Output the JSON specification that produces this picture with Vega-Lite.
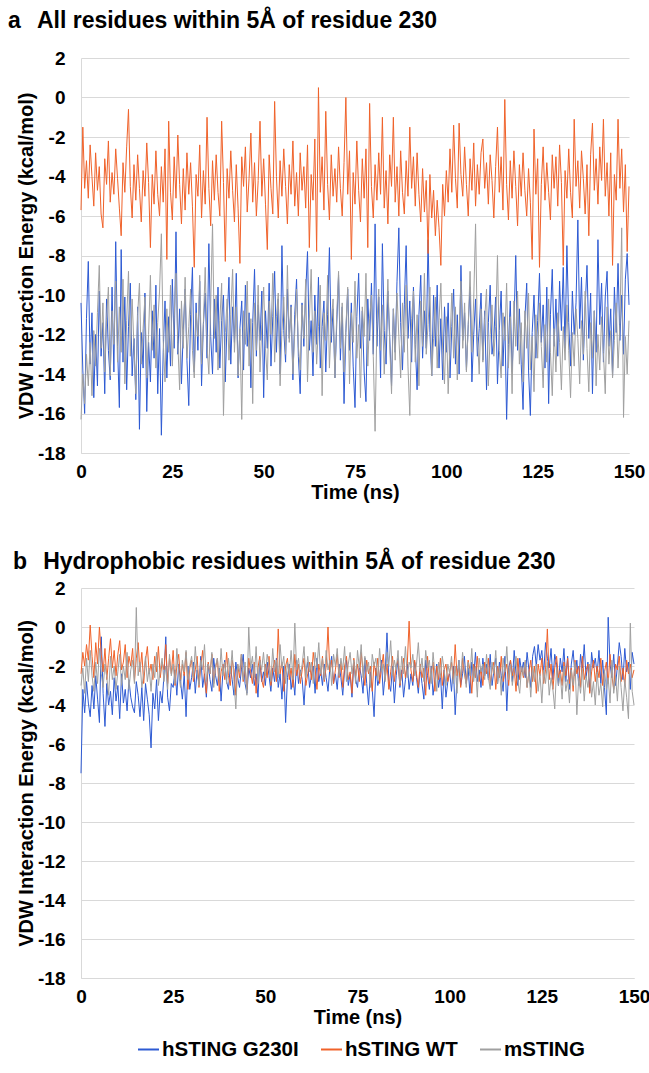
{
"$schema":"https://vega.github.io/schema/vega-lite/v6.json",
"background":"white",
"padding":{"left":8,"top":10,"right":2,"bottom":10},
"config":{
"font":"Liberation Sans",
"view":{"stroke":null},
"concat":{"spacing":49},
"axis":{"domainColor":"#D9D9D9","gridColor":"#D9D9D9","ticks":false,"labelFont":"Liberation Sans","labelFontSize":19,"labelFontWeight":"bold","labelColor":"#000000","titleFont":"Liberation Sans","titleFontSize":20,"titleFontWeight":"bold","titleColor":"#000000","labelExpr":"toString(datum.value)"},
"axisX":{"grid":false,"labelPadding":9,"titlePadding":1,"labelFlush":false},
"axisY":{"grid":true,"labelPadding":16,"titlePadding":1},
"title":{"font":"Liberation Sans","fontSize":23,"fontWeight":"bold","color":"#000000","anchor":"start","frame":"group"}
},
"datasets":{
"names":[{"k":"g","series":"hSTING G230I"},{"k":"w","series":"hSTING WT"},{"k":"m","series":"mSTING"}],
"a":[
{"t":0,"g":-10.4,"w":-5.7,"m":-16.3},{"t":0.5,"g":-13.8,"w":-1.5,"m":-14.0},{"t":1,"g":-16.0,"w":-4.6,"m":-15.5},{"t":1.5,"g":-11.2,"w":-3.2,"m":-13.0},{"t":2,"g":-8.3,"w":-5.1,"m":-14.6},{"t":2.5,"g":-13.5,"w":-2.4,"m":-12.4},{"t":3,"g":-10.9,"w":-4.0,"m":-15.1},{"t":3.5,"g":-15.2,"w":-5.5,"m":-11.8},{"t":4,"g":-12.0,"w":-2.8,"m":-13.6},{"t":4.5,"g":-14.6,"w":-4.7,"m":-10.9},
{"t":5,"g":-9.8,"w":-3.5,"m":-8.5},{"t":5.5,"g":-13.1,"w":-5.9,"m":-12.7},{"t":6,"g":-11.4,"w":-6.6,"m":-10.4},{"t":6.5,"g":-15.0,"w":-3.1,"m":-13.9},{"t":7,"g":-10.2,"w":-4.4,"m":-11.2},{"t":7.5,"g":-12.8,"w":-2.2,"m":-9.6},{"t":8,"g":-14.3,"w":-5.3,"m":-14.1},{"t":8.5,"g":-9.6,"w":-3.8,"m":-10.8},{"t":9,"g":-13.9,"w":-4.9,"m":-12.5},{"t":9.5,"g":-7.3,"w":-2.6,"m":-9.3},
{"t":10,"g":-12.6,"w":-4.1,"m":-13.4},{"t":10.5,"g":-15.7,"w":-5.6,"m":-10.6},{"t":11,"g":-7.7,"w":-7.0,"m":-12.9},{"t":11.5,"g":-13.4,"w":-3.3,"m":-9.2},{"t":12,"g":-10.1,"w":-4.8,"m":-14.5},{"t":12.5,"g":-14.8,"w":-2.5,"m":-11.3},{"t":13,"g":-11.6,"w":-0.6,"m":-8.8},{"t":13.5,"g":-9.4,"w":-4.5,"m":-13.1},{"t":14,"g":-14.1,"w":-6.1,"m":-10.2},{"t":14.5,"g":-12.2,"w":-3.4,"m":-12.6},
{"t":15,"g":-15.3,"w":-5.2,"m":-15.0},{"t":15.5,"g":-10.6,"w":-2.9,"m":-11.0},{"t":16,"g":-16.8,"w":-4.6,"m":-9.4},{"t":16.5,"g":-11.9,"w":-6.3,"m":-13.5},{"t":17,"g":-13.7,"w":-3.7,"m":-11.7},{"t":17.5,"g":-9.9,"w":-5.0,"m":-10.1},{"t":18,"g":-15.9,"w":-2.3,"m":-14.2},{"t":18.5,"g":-12.4,"w":-4.3,"m":-12.0},{"t":19,"g":-14.4,"w":-7.6,"m":-9.0},{"t":19.5,"g":-10.8,"w":-3.9,"m":-12.8},
{"t":20,"g":-13.2,"w":-5.4,"m":-10.5},{"t":20.5,"g":-9.5,"w":-2.7,"m":-13.7},{"t":21,"g":-15.0,"w":-4.9,"m":-11.4},{"t":21.5,"g":-11.7,"w":-6.0,"m":-9.8},{"t":22,"g":-17.1,"w":-3.5,"m":-6.9},{"t":22.5,"g":-12.9,"w":-5.3,"m":-12.3},{"t":23,"g":-10.3,"w":-2.6,"m":-14.4},{"t":23.5,"g":-14.2,"w":-8.2,"m":-10.7},{"t":24,"g":-11.1,"w":-1.2,"m":-12.9},{"t":24.5,"g":-13.6,"w":-4.8,"m":-9.5},
{"t":25,"g":-9.2,"w":-6.2,"m":-13.6},{"t":25.5,"g":-12.7,"w":-3.0,"m":-11.1},{"t":26,"g":-6.8,"w":-5.1,"m":-8.9},{"t":26.5,"g":-13.0,"w":-1.9,"m":-12.4},{"t":27,"g":-10.7,"w":-4.4,"m":-14.8},{"t":27.5,"g":-14.5,"w":-6.4,"m":-10.3},{"t":28,"g":-11.8,"w":-3.6,"m":-12.7},{"t":28.5,"g":-9.7,"w":-5.7,"m":-9.1},{"t":29,"g":-13.3,"w":-2.8,"m":-13.2},{"t":29.5,"g":-15.6,"w":-4.9,"m":-11.6},
{"t":30,"g":-11.0,"w":-3.3,"m":-9.7},{"t":30.5,"g":-8.6,"w":-5.5,"m":-12.8},{"t":31,"g":-13.9,"w":-8.6,"m":-14.2},{"t":31.5,"g":-10.4,"w":-3.9,"m":-10.9},{"t":32,"g":-12.8,"w":-5.0,"m":-12.1},{"t":32.5,"g":-9.3,"w":-2.4,"m":-9.0},{"t":33,"g":-14.6,"w":-6.1,"m":-13.5},{"t":33.5,"g":-11.5,"w":-3.7,"m":-11.4},{"t":34,"g":-9.9,"w":-5.4,"m":-8.6},{"t":34.5,"g":-13.2,"w":-1.0,"m":-12.6},
{"t":35,"g":-7.4,"w":-4.6,"m":-14.0},{"t":35.5,"g":-12.1,"w":-6.5,"m":-10.5},{"t":36,"g":-14.0,"w":-3.2,"m":-6.4},{"t":36.5,"g":-10.2,"w":-5.2,"m":-12.2},{"t":37,"g":-12.9,"w":-2.9,"m":-10.0},{"t":37.5,"g":-9.6,"w":-4.8,"m":-13.8},{"t":38,"g":-13.7,"w":-6.0,"m":-11.3},{"t":38.5,"g":-11.3,"w":-1.2,"m":-9.4},{"t":39,"g":-10.0,"w":-4.3,"m":-16.1},{"t":39.5,"g":-14.4,"w":-8.3,"m":-11.9},
{"t":40,"g":-11.2,"w":-3.6,"m":-10.2},{"t":40.5,"g":-9.1,"w":-5.1,"m":-13.3},{"t":41,"g":-13.5,"w":-2.7,"m":-11.0},{"t":41.5,"g":-10.6,"w":-4.7,"m":-8.7},{"t":42,"g":-12.4,"w":-6.3,"m":-12.9},{"t":42.5,"g":-8.9,"w":-3.4,"m":-10.6},{"t":43,"g":-14.2,"w":-5.6,"m":-14.1},{"t":43.5,"g":-11.7,"w":-8.4,"m":-11.7},{"t":44,"g":-10.3,"w":-3.0,"m":-16.3},{"t":44.5,"g":-13.8,"w":-4.5,"m":-10.8},
{"t":45,"g":-9.5,"w":-2.5,"m":-12.5},{"t":45.5,"g":-12.6,"w":-5.8,"m":-9.3},{"t":46,"g":-10.9,"w":-4.1,"m":-13.6},{"t":46.5,"g":-14.7,"w":-1.8,"m":-11.2},{"t":47,"g":-11.4,"w":-5.3,"m":-15.5},{"t":47.5,"g":-8.7,"w":-3.3,"m":-10.4},{"t":48,"g":-13.1,"w":-6.0,"m":-12.8},{"t":48.5,"g":-10.5,"w":-4.2,"m":-9.5},{"t":49,"g":-12.3,"w":-1.2,"m":-13.9},{"t":49.5,"g":-9.8,"w":-5.0,"m":-11.5},
{"t":50,"g":-15.2,"w":-3.1,"m":-9.6},{"t":50.5,"g":-10.8,"w":-5.4,"m":-12.7},{"t":51,"g":-12.7,"w":-7.7,"m":-14.3},{"t":51.5,"g":-9.4,"w":-2.9,"m":-10.3},{"t":52,"g":-13.6,"w":-4.6,"m":-12.0},{"t":52.5,"g":-11.1,"w":-5.9,"m":-8.9},{"t":53,"g":-8.8,"w":-0.2,"m":-13.4},{"t":53.5,"g":-12.9,"w":-4.0,"m":-11.1},{"t":54,"g":-10.2,"w":-6.1,"m":-9.9},{"t":54.5,"g":-14.0,"w":-3.2,"m":-14.6},
{"t":55,"g":-7.5,"w":-5.0,"m":-11.8},{"t":55.5,"g":-11.8,"w":-2.6,"m":-10.1},{"t":56,"g":-13.4,"w":-4.5,"m":-13.0},{"t":56.5,"g":-9.7,"w":-6.4,"m":-8.5},{"t":57,"g":-12.2,"w":-3.4,"m":-12.4},{"t":57.5,"g":-10.5,"w":-4.9,"m":-10.6},{"t":58,"g":-14.3,"w":-2.2,"m":-14.0},{"t":58.5,"g":-11.0,"w":-5.5,"m":-11.9},{"t":59,"g":-9.2,"w":-3.8,"m":-9.7},{"t":59.5,"g":-13.1,"w":-6.0,"m":-12.6},
{"t":60,"g":-15.0,"w":-2.8,"m":-13.8},{"t":60.5,"g":-10.4,"w":-4.7,"m":-10.5},{"t":61,"g":-12.6,"w":-3.5,"m":-12.2},{"t":61.5,"g":-9.9,"w":-5.6,"m":-9.2},{"t":62,"g":-7.8,"w":-2.4,"m":-14.4},{"t":62.5,"g":-12.8,"w":-7.6,"m":-11.3},{"t":63,"g":-11.3,"w":-3.9,"m":-8.7},{"t":63.5,"g":-14.1,"w":-5.2,"m":-12.9},{"t":64,"g":-10.0,"w":-2.1,"m":-10.8},{"t":64.5,"g":-12.5,"w":-7.8,"m":-13.5},
{"t":65,"g":-9.1,"w":0.5,"m":-11.6},{"t":65.5,"g":-13.7,"w":-4.8,"m":-9.5},{"t":66,"g":-11.6,"w":-3.0,"m":-15.1},{"t":66.5,"g":-10.3,"w":-5.7,"m":-10.9},{"t":67,"g":-13.9,"w":-0.7,"m":-12.3},{"t":67.5,"g":-11.0,"w":-4.4,"m":-9.0},{"t":68,"g":-7.6,"w":-6.2,"m":-13.7},{"t":68.5,"g":-12.4,"w":-2.9,"m":-11.4},{"t":69,"g":-10.7,"w":-5.0,"m":-10.2},{"t":69.5,"g":-14.2,"w":-3.6,"m":-14.2},
{"t":70,"g":-11.5,"w":-5.3,"m":-11.0},{"t":70.5,"g":-9.0,"w":-2.5,"m":-8.8},{"t":71,"g":-13.3,"w":-4.6,"m":-12.7},{"t":71.5,"g":-10.6,"w":-6.0,"m":-10.4},{"t":72,"g":-15.5,"w":-3.3,"m":-13.9},{"t":72.5,"g":-11.9,"w":0.0,"m":-11.7},{"t":73,"g":-9.7,"w":-4.9,"m":-9.6},{"t":73.5,"g":-12.8,"w":-2.7,"m":-14.5},{"t":74,"g":-10.4,"w":-8.2,"m":-10.9},{"t":74.5,"g":-13.6,"w":-3.8,"m":-12.4},
{"t":75,"g":-15.7,"w":-5.4,"m":-9.3},{"t":75.5,"g":-11.1,"w":-2.2,"m":-13.2},{"t":76,"g":-8.9,"w":-4.7,"m":-11.5},{"t":76.5,"g":-12.7,"w":-6.3,"m":-15.2},{"t":77,"g":-10.8,"w":-3.1,"m":-10.6},{"t":77.5,"g":-13.9,"w":-5.1,"m":-12.1},{"t":78,"g":-15.4,"w":-2.6,"m":-8.9},{"t":78.5,"g":-10.2,"w":-7.6,"m":-13.6},{"t":79,"g":-12.3,"w":-0.3,"m":-11.2},{"t":79.5,"g":-9.4,"w":-4.5,"m":-10.0},
{"t":80,"g":-13.0,"w":-6.1,"m":-13.1},{"t":80.5,"g":-6.4,"w":-3.4,"m":-16.9},{"t":81,"g":-12.6,"w":-5.2,"m":-11.4},{"t":81.5,"g":-10.1,"w":-2.8,"m":-9.7},{"t":82,"g":-14.2,"w":-4.9,"m":-12.8},{"t":82.5,"g":-7.4,"w":-1.0,"m":-10.5},{"t":83,"g":-11.8,"w":-5.6,"m":-14.0},{"t":83.5,"g":-13.5,"w":-3.7,"m":-11.8},{"t":84,"g":-9.8,"w":-6.4,"m":-9.2},{"t":84.5,"g":-12.1,"w":-2.9,"m":-12.5},
{"t":85,"g":-14.6,"w":-4.5,"m":-15.0},{"t":85.5,"g":-10.7,"w":-1.0,"m":-10.7},{"t":86,"g":-12.9,"w":-5.3,"m":-13.3},{"t":86.5,"g":-9.3,"w":-3.5,"m":-9.9},{"t":87,"g":-6.6,"w":-6.0,"m":-12.1},{"t":87.5,"g":-11.4,"w":-2.7,"m":-14.2},{"t":88,"g":-13.8,"w":-4.8,"m":-10.4},{"t":88.5,"g":-10.5,"w":-5.9,"m":-12.9},{"t":89,"g":-7.5,"w":-3.2,"m":-9.5},{"t":89.5,"g":-12.2,"w":-5.0,"m":-13.6},
{"t":90,"g":-10.3,"w":-1.5,"m":-16.1},{"t":90.5,"g":-13.4,"w":-4.6,"m":-11.2},{"t":91,"g":-9.6,"w":-3.0,"m":-9.8},{"t":91.5,"g":-12.5,"w":-5.5,"m":-13.4},{"t":92,"g":-14.8,"w":-2.8,"m":-11.0},{"t":92.5,"g":-11.0,"w":-4.9,"m":-14.6},{"t":93,"g":-9.0,"w":-6.3,"m":-10.3},{"t":93.5,"g":-13.2,"w":-3.6,"m":-12.6},{"t":94,"g":-10.8,"w":-5.8,"m":-8.9},{"t":94.5,"g":-12.7,"w":-4.2,"m":-13.0},
{"t":95,"g":-7.2,"w":-7.9,"m":-11.5},{"t":95.5,"g":-11.9,"w":-3.9,"m":-9.6},{"t":96,"g":-14.1,"w":-6.1,"m":-14.1},{"t":96.5,"g":-10.0,"w":-4.7,"m":-12.2},{"t":97,"g":-12.6,"w":-7.0,"m":-10.1},{"t":97.5,"g":-9.5,"w":-5.2,"m":-13.7},{"t":98,"g":-13.7,"w":-6.6,"m":-11.3},{"t":98.5,"g":-11.2,"w":-8.5,"m":-9.4},{"t":99,"g":-14.3,"w":-4.4,"m":-12.8},{"t":99.5,"g":-10.6,"w":-6.0,"m":-14.5},
{"t":100,"g":-12.9,"w":-3.7,"m":-11.1},{"t":100.5,"g":-10.4,"w":-5.3,"m":-15.0},{"t":101,"g":-14.2,"w":-2.6,"m":-12.4},{"t":101.5,"g":-11.6,"w":-4.8,"m":-9.9},{"t":102,"g":-9.7,"w":-1.4,"m":-13.2},{"t":102.5,"g":-13.5,"w":-4.1,"m":-10.6},{"t":103,"g":-11.0,"w":-5.6,"m":-14.3},{"t":103.5,"g":-14.0,"w":-1.3,"m":-11.8},{"t":104,"g":-8.5,"w":-3.9,"m":-9.3},{"t":104.5,"g":-12.3,"w":-5.0,"m":-12.7},
{"t":105,"g":-10.9,"w":-2.5,"m":-10.4},{"t":105.5,"g":-13.8,"w":-4.4,"m":-13.9},{"t":106,"g":-11.5,"w":-6.0,"m":-11.5},{"t":106.5,"g":-9.6,"w":-3.1,"m":-8.8},{"t":107,"g":-14.4,"w":-4.7,"m":-12.9},{"t":107.5,"g":-12.0,"w":-2.3,"m":-10.2},{"t":108,"g":-10.2,"w":-5.5,"m":-6.4},{"t":108.5,"g":-13.1,"w":-3.4,"m":-12.1},{"t":109,"g":-11.7,"w":-4.9,"m":-14.0},{"t":109.5,"g":-9.9,"w":-2.8,"m":-10.7},
{"t":110,"g":-13.3,"w":-2.1,"m":-13.4},{"t":110.5,"g":-10.8,"w":-4.6,"m":-11.2},{"t":111,"g":-14.8,"w":-3.3,"m":-9.7},{"t":111.5,"g":-11.4,"w":-5.4,"m":-14.6},{"t":112,"g":-9.5,"w":-2.9,"m":-12.0},{"t":112.5,"g":-13.0,"w":-4.2,"m":-10.5},{"t":113,"g":-12.2,"w":-6.1,"m":-13.1},{"t":113.5,"g":-10.1,"w":-3.5,"m":-11.6},{"t":114,"g":-14.5,"w":-1.5,"m":-8.0},{"t":114.5,"g":-11.8,"w":-4.8,"m":-12.8},
{"t":115,"g":-9.8,"w":-3.0,"m":-14.2},{"t":115.5,"g":-13.6,"w":-5.7,"m":-10.9},{"t":116,"g":-11.1,"w":-0.1,"m":-12.3},{"t":116.5,"g":-16.3,"w":-4.4,"m":-9.4},{"t":117,"g":-12.5,"w":-6.2,"m":-13.7},{"t":117.5,"g":-10.3,"w":-3.2,"m":-11.1},{"t":118,"g":-13.9,"w":-5.1,"m":-15.0},{"t":118.5,"g":-11.6,"w":-2.7,"m":-10.3},{"t":119,"g":-8.0,"w":-4.5,"m":-12.6},{"t":119.5,"g":-12.8,"w":-6.5,"m":-9.8},
{"t":120,"g":-10.7,"w":-3.4,"m":-13.5},{"t":120.5,"g":-13.5,"w":-5.0,"m":-11.4},{"t":121,"g":-15.8,"w":-2.8,"m":-14.4},{"t":121.5,"g":-11.2,"w":-4.7,"m":-10.8},{"t":122,"g":-9.4,"w":-6.0,"m":-12.7},{"t":122.5,"g":-13.8,"w":-3.6,"m":-9.9},{"t":123,"g":-16.1,"w":-5.3,"m":-13.8},{"t":123.5,"g":-11.9,"w":-8.2,"m":-12.1},{"t":124,"g":-10.0,"w":-1.6,"m":-14.9},{"t":124.5,"g":-13.2,"w":-4.9,"m":-11.0},
{"t":125,"g":-11.3,"w":-3.1,"m":-13.2},{"t":125.5,"g":-8.9,"w":-8.6,"m":-10.4},{"t":126,"g":-12.4,"w":-4.4,"m":-12.6},{"t":126.5,"g":-10.5,"w":-2.5,"m":-14.7},{"t":127,"g":-13.7,"w":-5.2,"m":-11.5},{"t":127.5,"g":-9.6,"w":-3.3,"m":-13.4},{"t":128,"g":-15.5,"w":-4.8,"m":-10.2},{"t":128.5,"g":-11.0,"w":-6.2,"m":-12.9},{"t":129,"g":-8.7,"w":-2.9,"m":-15.1},{"t":129.5,"g":-12.6,"w":-4.6,"m":-11.7},
{"t":130,"g":-10.2,"w":-3.0,"m":-13.9},{"t":130.5,"g":-13.1,"w":-5.5,"m":-10.9},{"t":131,"g":-9.3,"w":-2.4,"m":-12.4},{"t":131.5,"g":-11.8,"w":-4.3,"m":-14.8},{"t":132,"g":-8.6,"w":-8.5,"m":-11.6},{"t":132.5,"g":-12.7,"w":-3.7,"m":-13.3},{"t":133,"g":-7.5,"w":-5.1,"m":-10.5},{"t":133.5,"g":-11.4,"w":-2.6,"m":-12.8},{"t":134,"g":-13.6,"w":-4.8,"m":-15.2},{"t":134.5,"g":-9.8,"w":-6.1,"m":-11.9},
{"t":135,"g":-12.0,"w":-1.1,"m":-13.6},{"t":135.5,"g":-10.4,"w":-4.5,"m":-10.7},{"t":136,"g":-6.2,"w":-3.2,"m":-12.2},{"t":136.5,"g":-11.7,"w":-5.6,"m":-14.5},{"t":137,"g":-9.1,"w":-2.7,"m":-11.3},{"t":137.5,"g":-13.3,"w":-4.1,"m":-13.0},{"t":138,"g":-10.6,"w":-5.9,"m":-9.8},{"t":138.5,"g":-8.5,"w":-3.4,"m":-12.7},{"t":139,"g":-12.2,"w":-7.0,"m":-14.9},{"t":139.5,"g":-9.9,"w":-2.9,"m":-11.4},
{"t":140,"g":-15.0,"w":-1.3,"m":-13.2},{"t":140.5,"g":-10.8,"w":-4.7,"m":-10.8},{"t":141,"g":-12.9,"w":-3.1,"m":-14.6},{"t":141.5,"g":-7.2,"w":-5.4,"m":-12.0},{"t":142,"g":-11.5,"w":-2.5,"m":-13.8},{"t":142.5,"g":-9.4,"w":-4.2,"m":-11.1},{"t":143,"g":-13.4,"w":-1.1,"m":-12.9},{"t":143.5,"g":-10.1,"w":-5.0,"m":-15.0},{"t":144,"g":-8.8,"w":-3.3,"m":-10.6},{"t":144.5,"g":-12.6,"w":-6.0,"m":-13.5},
{"t":145,"g":-10.7,"w":-2.8,"m":-11.8},{"t":145.5,"g":-14.1,"w":-8.5,"m":-14.2},{"t":146,"g":-9.6,"w":-3.9,"m":-12.3},{"t":146.5,"g":-11.9,"w":-5.2,"m":-10.4},{"t":147,"g":-8.4,"w":-1.1,"m":-13.7},{"t":147.5,"g":-12.3,"w":-4.6,"m":-11.5},{"t":148,"g":-10.0,"w":-2.6,"m":-6.6},{"t":148.5,"g":-13.0,"w":-5.8,"m":-16.2},{"t":149,"g":-9.2,"w":-3.4,"m":-12.1},{"t":149.5,"g":-7.9,"w":-7.8,"m":-14.0},
{"t":150,"g":-10.5,"w":-4.5,"m":-11.3}
],
"b":[
{"t":0,"g":-7.5,"w":-2.4,"m":-3.0},{"t":0.5,"g":-3.2,"w":-1.3,"m":-2.1},{"t":1,"g":-4.4,"w":-2.0,"m":-3.4},{"t":1.5,"g":-2.8,"w":-0.9,"m":-1.6},{"t":2,"g":-3.9,"w":-1.7,"m":-2.8},{"t":2.5,"g":-4.6,"w":0.1,"m":-1.2},{"t":3,"g":-3.0,"w":-1.5,"m":-2.5},{"t":3.5,"g":-4.2,"w":-2.6,"m":-3.3},{"t":4,"g":-2.5,"w":-0.8,"m":-1.8},{"t":4.5,"g":-3.7,"w":-1.9,"m":-2.9},
{"t":5,"g":-4.9,"w":0.0,"m":-1.1},{"t":5.5,"g":-0.5,"w":-1.4,"m":-2.4},{"t":6,"g":-3.4,"w":-2.3,"m":-3.1},{"t":6.5,"g":-5.1,"w":-1.1,"m":-1.9},{"t":7,"g":-2.9,"w":-2.7,"m":-2.6},{"t":7.5,"g":-4.0,"w":-1.6,"m":-3.5},{"t":8,"g":-3.3,"w":-0.6,"m":-1.5},{"t":8.5,"g":-4.5,"w":-2.1,"m":-2.7},{"t":9,"g":-2.6,"w":-1.2,"m":-2.0},{"t":9.5,"g":-3.8,"w":-2.5,"m":-3.2},
{"t":10,"g":-3.0,"w":-1.4,"m":-2.3},{"t":10.5,"g":-4.7,"w":-0.7,"m":-1.4},{"t":11,"g":-2.4,"w":-2.2,"m":-3.0},{"t":11.5,"g":-3.9,"w":-1.8,"m":-2.0},{"t":12,"g":-3.2,"w":-0.9,"m":-2.7},{"t":12.5,"g":-4.3,"w":-2.6,"m":-1.3},{"t":13,"g":-2.7,"w":-1.5,"m":-3.2},{"t":13.5,"g":-3.6,"w":-2.0,"m":-2.2},{"t":14,"g":-4.1,"w":-1.1,"m":-1.7},{"t":14.5,"g":-4.4,"w":-2.8,"m":-2.9},
{"t":15,"g":-2.8,"w":-1.6,"m":1.0},{"t":15.5,"g":-3.5,"w":-0.8,"m":-2.5},{"t":16,"g":-4.6,"w":-2.3,"m":-1.8},{"t":16.5,"g":-3.1,"w":-1.3,"m":-3.1},{"t":17,"g":-4.8,"w":-2.9,"m":-2.4},{"t":17.5,"g":-2.9,"w":-1.7,"m":-1.5},{"t":18,"g":-3.7,"w":-1.0,"m":-2.8},{"t":18.5,"g":-4.5,"w":-2.4,"m":-2.1},{"t":19,"g":-6.2,"w":-1.9,"m":-3.3},{"t":19.5,"g":-3.4,"w":-2.7,"m":-1.9},
{"t":20,"g":-4.2,"w":-1.5,"m":-2.6},{"t":20.5,"g":-2.7,"w":-2.3,"m":-1.3},{"t":21,"g":-4.8,"w":-1.0,"m":-3.0},{"t":21.5,"g":-3.3,"w":-2.6,"m":-2.2},{"t":22,"g":-3.9,"w":-1.8,"m":-1.6},{"t":22.5,"g":-2.5,"w":-2.2,"m":-2.8},{"t":23,"g":-0.5,"w":-0.9,"m":-2.0},{"t":23.5,"g":-3.6,"w":-2.9,"m":-3.2},{"t":24,"g":-4.3,"w":-1.6,"m":-1.4},{"t":24.5,"g":-2.9,"w":-2.4,"m":-2.5},
{"t":25,"g":-3.1,"w":-1.2,"m":-1.9},{"t":25.5,"g":-2.2,"w":-3.0,"m":-2.9},{"t":26,"g":-3.5,"w":-2.0,"m":-1.1},{"t":26.5,"g":-1.9,"w":-1.4,"m":-2.4},{"t":27,"g":-2.8,"w":-2.7,"m":-3.1},{"t":27.5,"g":-3.7,"w":-1.9,"m":-1.7},{"t":28,"g":-2.4,"w":-2.5,"m":-2.3},{"t":28.5,"g":-4.6,"w":-1.3,"m":-1.2},{"t":29,"g":-2.0,"w":-3.2,"m":-2.7},{"t":29.5,"g":-3.2,"w":-2.1,"m":-2.0},
{"t":30,"g":-2.6,"w":-1.7,"m":-1.5},{"t":30.5,"g":-1.8,"w":-2.8,"m":-2.6},{"t":31,"g":-3.4,"w":-2.2,"m":-1.0},{"t":31.5,"g":-2.2,"w":-1.5,"m":-2.3},{"t":32,"g":-2.9,"w":-3.1,"m":-3.0},{"t":32.5,"g":-1.5,"w":-2.0,"m":-1.7},{"t":33,"g":-3.1,"w":-1.2,"m":-2.2},{"t":33.5,"g":-2.4,"w":-2.6,"m":-0.9},{"t":34,"g":-3.6,"w":-3.4,"m":-2.8},{"t":34.5,"g":-1.9,"w":-1.8,"m":-1.9},
{"t":35,"g":-2.7,"w":-2.4,"m":-2.4},{"t":35.5,"g":-3.3,"w":-1.4,"m":-1.3},{"t":36,"g":-1.6,"w":-2.9,"m":-3.1},{"t":36.5,"g":-2.5,"w":-2.1,"m":-2.0},{"t":37,"g":-3.0,"w":-1.6,"m":-1.6},{"t":37.5,"g":-2.1,"w":-3.3,"m":-2.7},{"t":38,"g":-3.8,"w":-2.3,"m":-1.1},{"t":38.5,"g":-2.3,"w":-1.9,"m":-2.5},{"t":39,"g":-1.7,"w":-2.7,"m":-1.8},{"t":39.5,"g":-2.8,"w":-1.3,"m":-2.9},
{"t":40,"g":-3.2,"w":-2.5,"m":-1.6},{"t":40.5,"g":-2.0,"w":-3.0,"m":-2.4},{"t":41,"g":-2.7,"w":-1.7,"m":-1.2},{"t":41.5,"g":-3.5,"w":-2.2,"m":-2.8},{"t":42,"g":-1.8,"w":-3.5,"m":-4.2},{"t":42.5,"g":-2.6,"w":-1.9,"m":-1.9},{"t":43,"g":-3.1,"w":-2.6,"m":-2.3},{"t":43.5,"g":-2.2,"w":-1.4,"m":-1.4},{"t":44,"g":-1.4,"w":-2.8,"m":-2.7},{"t":44.5,"g":-2.9,"w":-2.0,"m":-1.8},
{"t":45,"g":-3.4,"w":-3.2,"m":-3.5},{"t":45.5,"g":-2.1,"w":-1.6,"m":0.0},{"t":46,"g":-2.6,"w":-2.3,"m":-2.1},{"t":46.5,"g":-1.9,"w":-2.9,"m":-1.5},{"t":47,"g":-3.0,"w":-1.8,"m":-2.6},{"t":47.5,"g":-2.4,"w":-3.4,"m":-1.0},{"t":48,"g":-3.6,"w":-2.1,"m":-2.9},{"t":48.5,"g":-1.7,"w":-1.5,"m":-1.7},{"t":49,"g":-2.8,"w":-2.7,"m":-2.2},{"t":49.5,"g":-2.3,"w":-3.1,"m":-1.3},
{"t":50,"g":-3.0,"w":-1.9,"m":-2.5},{"t":50.5,"g":-1.8,"w":-2.6,"m":-1.4},{"t":51,"g":-2.5,"w":-1.5,"m":-2.0},{"t":51.5,"g":-3.3,"w":-3.0,"m":-2.8},{"t":52,"g":-2.1,"w":-2.2,"m":-1.1},{"t":52.5,"g":-2.8,"w":-1.7,"m":-2.3},{"t":53,"g":-1.6,"w":-2.8,"m":-1.7},{"t":53.5,"g":-3.1,"w":-0.1,"m":-2.6},{"t":54,"g":-2.4,"w":-2.4,"m":-0.9},{"t":54.5,"g":-3.7,"w":-1.8,"m":-2.1},
{"t":55,"g":-2.0,"w":-3.3,"m":-1.5},{"t":55.5,"g":-4.9,"w":-2.0,"m":-2.9},{"t":56,"g":-2.6,"w":-1.6,"m":-1.8},{"t":56.5,"g":-1.9,"w":-2.7,"m":-2.4},{"t":57,"g":-3.2,"w":-2.1,"m":-1.2},{"t":57.5,"g":-2.5,"w":-3.1,"m":-2.7},{"t":58,"g":-3.5,"w":-1.4,"m":0.2},{"t":58.5,"g":-1.7,"w":-2.5,"m":-2.2},{"t":59,"g":-2.9,"w":-1.9,"m":-1.6},{"t":59.5,"g":-2.2,"w":-2.9,"m":-2.5},
{"t":60,"g":-2.7,"w":-2.2,"m":-1.9},{"t":60.5,"g":-4.0,"w":-1.6,"m":-1.0},{"t":61,"g":-2.3,"w":-3.0,"m":-2.6},{"t":61.5,"g":-1.8,"w":-2.4,"m":-1.5},{"t":62,"g":-3.1,"w":-1.8,"m":-2.3},{"t":62.5,"g":-2.5,"w":-2.7,"m":-1.8},{"t":63,"g":-2.0,"w":-1.3,"m":-2.9},{"t":63.5,"g":-3.4,"w":-2.1,"m":-1.3},{"t":64,"g":-1.6,"w":-3.2,"m":-2.1},{"t":64.5,"g":-2.8,"w":-1.9,"m":-0.8},
{"t":65,"g":-2.2,"w":-2.5,"m":-2.4},{"t":65.5,"g":-3.0,"w":-1.5,"m":-1.6},{"t":66,"g":-1.9,"w":-2.8,"m":-2.7},{"t":66.5,"g":-2.6,"w":-2.0,"m":-1.2},{"t":67,"g":-3.3,"w":0.0,"m":-2.2},{"t":67.5,"g":-2.1,"w":-2.3,"m":-1.7},{"t":68,"g":-1.5,"w":-1.7,"m":-3.0},{"t":68.5,"g":-2.9,"w":-2.9,"m":-1.4},{"t":69,"g":-2.4,"w":-2.2,"m":-2.0},{"t":69.5,"g":-3.2,"w":-1.4,"m":-1.1},
{"t":70,"g":-1.9,"w":-2.6,"m":-2.5},{"t":70.5,"g":-2.6,"w":-1.8,"m":-1.6},{"t":71,"g":-3.5,"w":-3.1,"m":-2.2},{"t":71.5,"g":-2.2,"w":-2.0,"m":-1.0},{"t":72,"g":-1.7,"w":-1.5,"m":-2.8},{"t":72.5,"g":-3.0,"w":-2.7,"m":-1.9},{"t":73,"g":-2.4,"w":-2.3,"m":-1.3},{"t":73.5,"g":-3.6,"w":-3.4,"m":-2.4},{"t":74,"g":-1.8,"w":-1.6,"m":-1.7},{"t":74.5,"g":-2.7,"w":-2.5,"m":-2.9},
{"t":75,"g":-3.1,"w":-1.9,"m":-1.2},{"t":75.5,"g":-2.0,"w":-2.8,"m":-2.1},{"t":76,"g":-2.5,"w":-1.3,"m":-0.9},{"t":76.5,"g":-3.4,"w":-2.2,"m":-2.6},{"t":77,"g":-1.6,"w":-3.0,"m":-1.5},{"t":77.5,"g":-2.9,"w":-1.7,"m":-2.3},{"t":78,"g":-4.0,"w":-2.4,"m":-1.8},{"t":78.5,"g":-2.3,"w":-2.0,"m":-3.1},{"t":79,"g":-3.2,"w":-3.3,"m":-1.4},{"t":79.5,"g":-4.6,"w":-1.8,"m":-2.0},
{"t":80,"g":-2.1,"w":-2.5,"m":-1.6},{"t":80.5,"g":-3.0,"w":-1.6,"m":-2.7},{"t":81,"g":-2.6,"w":-2.9,"m":-1.1},{"t":81.5,"g":-1.7,"w":-2.1,"m":-2.3},{"t":82,"g":-3.5,"w":-1.4,"m":-1.9},{"t":82.5,"g":-2.4,"w":-2.7,"m":-2.8},{"t":83,"g":-0.3,"w":-1.9,"m":-1.3},{"t":83.5,"g":-2.8,"w":-3.2,"m":-2.0},{"t":84,"g":-3.3,"w":-2.3,"m":-0.7},{"t":84.5,"g":-2.0,"w":-1.5,"m":-2.5},
{"t":85,"g":-3.9,"w":-2.8,"m":-1.7},{"t":85.5,"g":-2.5,"w":-2.0,"m":-2.2},{"t":86,"g":-1.6,"w":-1.7,"m":-1.2},{"t":86.5,"g":-3.1,"w":-3.0,"m":-2.9},{"t":87,"g":-2.2,"w":-2.4,"m":-1.5},{"t":87.5,"g":-3.6,"w":-1.6,"m":-2.4},{"t":88,"g":-2.7,"w":-2.6,"m":-1.0},{"t":88.5,"g":-1.9,"w":-1.9,"m":-2.6},{"t":89,"g":-3.2,"w":0.3,"m":-1.8},{"t":89.5,"g":-2.4,"w":-2.2,"m":-2.1},
{"t":90,"g":-3.0,"w":-2.8,"m":-1.4},{"t":90.5,"g":-1.8,"w":-1.7,"m":-2.5},{"t":91,"g":-2.6,"w":-2.4,"m":-1.9},{"t":91.5,"g":-3.4,"w":-3.1,"m":-0.8},{"t":92,"g":-2.1,"w":-1.9,"m":-2.3},{"t":92.5,"g":-2.9,"w":-2.6,"m":-1.6},{"t":93,"g":-3.7,"w":-2.1,"m":-2.8},{"t":93.5,"g":-1.7,"w":-3.5,"m":-1.2},{"t":94,"g":-2.5,"w":-1.5,"m":-2.1},{"t":94.5,"g":-3.2,"w":-2.9,"m":-1.7},
{"t":95,"g":-2.0,"w":-2.3,"m":-2.9},{"t":95.5,"g":-3.5,"w":-1.8,"m":-1.3},{"t":96,"g":-2.7,"w":-3.3,"m":-2.4},{"t":96.5,"g":-1.9,"w":-2.0,"m":-3.3},{"t":97,"g":-3.1,"w":-2.7,"m":-1.8},{"t":97.5,"g":-2.4,"w":-1.6,"m":-2.6},{"t":98,"g":-4.2,"w":-3.0,"m":-1.5},{"t":98.5,"g":-2.2,"w":-2.2,"m":-2.2},{"t":99,"g":-3.6,"w":-1.9,"m":-3.0},{"t":99.5,"g":-2.8,"w":-2.8,"m":-1.9},
{"t":100,"g":-2.3,"w":-2.3,"m":-2.4},{"t":100.5,"g":-3.3,"w":-1.8,"m":-1.5},{"t":101,"g":-2.0,"w":-2.7,"m":-2.9},{"t":101.5,"g":-4.5,"w":-0.9,"m":-2.0},{"t":102,"g":-2.6,"w":-2.5,"m":-3.4},{"t":102.5,"g":-1.7,"w":-2.0,"m":-1.7},{"t":103,"g":-3.0,"w":-3.1,"m":-2.6},{"t":103.5,"g":-2.4,"w":-1.6,"m":-1.3},{"t":104,"g":-1.5,"w":-2.4,"m":-2.2},{"t":104.5,"g":-2.9,"w":-2.9,"m":-3.1},
{"t":105,"g":-2.1,"w":-1.7,"m":-1.8},{"t":105.5,"g":-3.4,"w":-2.2,"m":-2.5},{"t":106,"g":-1.8,"w":-3.4,"m":-1.1},{"t":106.5,"g":-2.6,"w":-1.9,"m":-2.8},{"t":107,"g":-1.3,"w":-2.6,"m":-2.0},{"t":107.5,"g":-2.8,"w":-1.5,"m":-3.6},{"t":108,"g":-2.2,"w":-2.8,"m":-1.6},{"t":108.5,"g":-3.1,"w":-2.1,"m":-2.3},{"t":109,"g":-1.6,"w":-3.0,"m":-1.9},{"t":109.5,"g":-2.5,"w":-1.8,"m":-2.7},
{"t":110,"g":-1.9,"w":-2.4,"m":-1.4},{"t":110.5,"g":-2.7,"w":-1.6,"m":-2.6},{"t":111,"g":-1.4,"w":-2.9,"m":-3.2},{"t":111.5,"g":-3.0,"w":-2.2,"m":-1.8},{"t":112,"g":-2.2,"w":-1.8,"m":-2.4},{"t":112.5,"g":-1.6,"w":-3.2,"m":-1.2},{"t":113,"g":-2.9,"w":-2.0,"m":-2.9},{"t":113.5,"g":-1.8,"w":-2.6,"m":-2.1},{"t":114,"g":-2.5,"w":-1.5,"m":-3.5},{"t":114.5,"g":-3.3,"w":-2.8,"m":-1.6},
{"t":115,"g":-1.5,"w":-2.3,"m":-2.3},{"t":115.5,"g":-4.3,"w":-1.9,"m":-1.0},{"t":116,"g":-2.1,"w":-3.0,"m":-2.7},{"t":116.5,"g":-1.7,"w":-1.7,"m":-1.9},{"t":117,"g":-2.8,"w":-2.5,"m":-3.0},{"t":117.5,"g":-1.2,"w":-2.1,"m":-2.2},{"t":118,"g":-2.4,"w":-3.3,"m":-1.5},{"t":118.5,"g":-3.0,"w":-1.6,"m":-2.8},{"t":119,"g":-1.6,"w":-2.7,"m":-3.4},{"t":119.5,"g":-2.3,"w":-2.0,"m":-2.0},
{"t":120,"g":-1.8,"w":-2.6,"m":-2.5},{"t":120.5,"g":-2.6,"w":-1.8,"m":-1.7},{"t":121,"g":-1.3,"w":-3.1,"m":-3.1},{"t":121.5,"g":-2.2,"w":-2.3,"m":-2.3},{"t":122,"g":-3.1,"w":-1.7,"m":-3.6},{"t":122.5,"g":-1.5,"w":-2.8,"m":-2.0},{"t":123,"g":-1.0,"w":-2.0,"m":-2.8},{"t":123.5,"g":-2.0,"w":-3.4,"m":-1.9},{"t":124,"g":-0.9,"w":-1.9,"m":-3.3},{"t":124.5,"g":-1.7,"w":-2.5,"m":-2.4},
{"t":125,"g":-1.2,"w":-1.6,"m":-3.9},{"t":125.5,"g":-2.4,"w":-2.9,"m":-2.2},{"t":126,"g":-0.8,"w":-2.2,"m":-2.9},{"t":126.5,"g":-1.6,"w":-0.1,"m":-1.8},{"t":127,"g":-2.1,"w":-2.7,"m":-3.5},{"t":127.5,"g":-1.1,"w":-1.9,"m":-2.6},{"t":128,"g":-2.7,"w":-3.2,"m":-3.2},{"t":128.5,"g":-1.4,"w":-2.1,"m":-4.2},{"t":129,"g":-1.9,"w":-1.5,"m":-2.1},{"t":129.5,"g":-3.0,"w":-2.6,"m":-3.0},
{"t":130,"g":-1.6,"w":-2.2,"m":-2.4},{"t":130.5,"g":-2.3,"w":-3.0,"m":-3.7},{"t":131,"g":-1.1,"w":-1.8,"m":-2.0},{"t":131.5,"g":-2.8,"w":-2.5,"m":-3.3},{"t":132,"g":-1.5,"w":-1.6,"m":-2.7},{"t":132.5,"g":-3.2,"w":-2.9,"m":-3.9},{"t":133,"g":-1.9,"w":-2.1,"m":-2.2},{"t":133.5,"g":-1.2,"w":-3.3,"m":-3.0},{"t":134,"g":-2.5,"w":-1.7,"m":-1.8},{"t":134.5,"g":-1.7,"w":-2.4,"m":-4.5},
{"t":135,"g":-3.0,"w":-2.0,"m":-2.6},{"t":135.5,"g":-1.4,"w":-3.1,"m":-3.4},{"t":136,"g":-2.2,"w":-1.5,"m":-2.1},{"t":136.5,"g":-0.9,"w":-2.7,"m":-3.8},{"t":137,"g":-2.6,"w":-2.2,"m":-2.5},{"t":137.5,"g":-1.8,"w":-1.9,"m":-3.1},{"t":138,"g":-3.3,"w":-3.4,"m":-1.9},{"t":138.5,"g":-1.3,"w":-2.3,"m":-3.6},{"t":139,"g":-2.1,"w":-1.7,"m":-2.8},{"t":139.5,"g":-1.6,"w":-2.8,"m":-4.0},
{"t":140,"g":-2.4,"w":-2.0,"m":-2.3},{"t":140.5,"g":-1.2,"w":-2.6,"m":-3.5},{"t":141,"g":-2.9,"w":-1.6,"m":-2.9},{"t":141.5,"g":-1.7,"w":-3.0,"m":-4.1},{"t":142,"g":-3.1,"w":-2.3,"m":-2.2},{"t":142.5,"g":-4.5,"w":-1.8,"m":-3.2},{"t":143,"g":0.5,"w":-2.9,"m":-2.6},{"t":143.5,"g":-1.9,"w":-1.4,"m":-3.9},{"t":144,"g":-2.6,"w":-2.5,"m":-1.7},{"t":144.5,"g":-1.4,"w":-3.2,"m":-3.4},
{"t":145,"g":-3.0,"w":-1.9,"m":-2.5},{"t":145.5,"g":-2.0,"w":-2.2,"m":-3.8},{"t":146,"g":-0.8,"w":-1.5,"m":-2.0},{"t":146.5,"g":-1.5,"w":-2.8,"m":-3.1},{"t":147,"g":-2.7,"w":-2.1,"m":-4.3},{"t":147.5,"g":-1.1,"w":-3.0,"m":-2.7},{"t":148,"g":-2.3,"w":-1.7,"m":-3.6},{"t":148.5,"g":-1.8,"w":-2.4,"m":-4.7},{"t":149,"g":-3.2,"w":-1.9,"m":0.2},{"t":149.5,"g":-1.3,"w":-2.6,"m":-3.3},
{"t":150,"g":-1.9,"w":-2.2,"m":-4.0}
]
},
"vconcat":[
{
"title":{"text":"a\u2002\u2009All residues within 5Å of residue 230","dx":-73,"offset":16},
"width":548,"height":395,
"data":{"name":"a"},
"transform":[{"fold":["g","w","m"],"as":["k","v"]},{"lookup":"k","from":{"data":{"name":"names"},"key":"k","fields":["series"]}}],
"mark":{"type":"line","strokeWidth":1},
"encoding":{
"x":{"field":"t","type":"quantitative","scale":{"domain":[0,150],"nice":false},"axis":{"values":[0,25,50,75,100,125,150],"title":"Time (ns)"}},
"y":{"field":"v","type":"quantitative","scale":{"domain":[-18,2],"nice":false},"axis":{"values":[-18,-16,-14,-12,-10,-8,-6,-4,-2,0,2],"title":"VDW Interaction Energy (kcal/mol)"}},
"color":{"field":"series","type":"nominal","scale":{"domain":["hSTING G230I","hSTING WT","mSTING"],"range":["#2D5AD3","#F0622A","#A0A0A0"]},"legend":{"orient":"none","legendX":56,"legendY":980,"padding":0,"direction":"horizontal","title":null,"symbolType":"stroke","symbolStrokeWidth":2,"symbolSize":441,"labelFont":"Liberation Sans","labelFontSize":20.5,"labelFontWeight":"bold","labelColor":"#000000","labelOffset":2,"columnPadding":18}}
}
},
{
"title":{"text":"b\u2002\u2009Hydrophobic residues within 5Å of residue 230","dx":-68,"offset":5},
"width":553,"height":390,
"data":{"name":"b"},
"transform":[{"fold":["g","w","m"],"as":["k","v"]},{"lookup":"k","from":{"data":{"name":"names"},"key":"k","fields":["series"]}}],
"mark":{"type":"line","strokeWidth":1},
"encoding":{
"x":{"field":"t","type":"quantitative","scale":{"domain":[0,150],"nice":false},"axis":{"values":[0,25,50,75,100,125,150],"title":"Time (ns)"}},
"y":{"field":"v","type":"quantitative","scale":{"domain":[-18,2],"nice":false},"axis":{"values":[-18,-16,-14,-12,-10,-8,-6,-4,-2,0,2],"title":"VDW Interaction Energy (kcal/mol)"}},
"color":{"field":"series","type":"nominal","scale":{"domain":["hSTING G230I","hSTING WT","mSTING"],"range":["#2D5AD3","#F0622A","#A0A0A0"]}}
}
}
]
}
